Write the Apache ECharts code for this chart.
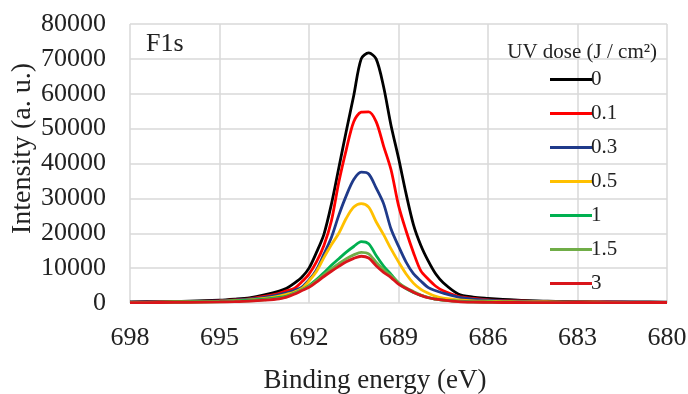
<!DOCTYPE html>
<html>
<head>
<meta charset="utf-8">
<script src="https://cdn.jsdelivr.net/npm/echarts@6/dist/echarts.min.js"></script>
<style>html,body{margin:0;padding:0;background:#fff}#c{width:688px;height:394px}</style>
</head>
<body>
<div id="c"></div>
<script>
var energy = [698, 697, 696, 695, 694.5, 694, 693.5, 693, 692.75, 692.5, 692.25, 692, 691.75, 691.5, 691.25, 691, 690.75, 690.5, 690.25, 690, 689.75, 689.5, 689.25, 689, 688.75, 688.5, 688.25, 688, 687.75, 687.5, 687, 686.5, 686, 685.5, 685, 684, 683, 682, 681, 680];
var doses = ['0', '0.1', '0.3', '0.5', '1', '1.5', '3'];
var dose0   = [300, 400, 500, 800, 1100, 1500, 2300, 3400, 4200, 5600, 7300, 10000, 14500, 19700, 28300, 38800, 49300, 59500, 70000, 71700, 70000, 62000, 50900, 41600, 31500, 22500, 16500, 12000, 8300, 5800, 2600, 1700, 1300, 1000, 800, 500, 400, 300, 300, 250];
var dose01  = [200, 300, 400, 600, 900, 1200, 1900, 2800, 3500, 4200, 6000, 8300, 11800, 16500, 23500, 34700, 44000, 52000, 54700, 54800, 52000, 45000, 38200, 28000, 20800, 14500, 9200, 6800, 4800, 3500, 1900, 1300, 900, 700, 600, 400, 300, 300, 200, 200];
var dose03  = [200, 300, 400, 600, 800, 1100, 1600, 2400, 2900, 3600, 4500, 6600, 9500, 14000, 18800, 25200, 30800, 35400, 37500, 37000, 33000, 28500, 21200, 16300, 11800, 8400, 6300, 4400, 3500, 2800, 1700, 1100, 800, 600, 500, 350, 300, 250, 200, 200];
var dose05  = [150, 250, 350, 500, 700, 900, 1300, 2000, 2500, 3100, 4100, 6300, 9000, 13000, 16700, 20000, 24300, 27500, 28500, 27500, 23300, 19600, 15500, 11800, 8400, 5700, 3900, 2800, 1900, 1400, 900, 600, 500, 400, 350, 300, 250, 200, 200, 200];
var dose1   = [150, 200, 300, 450, 600, 800, 1100, 1600, 2000, 2800, 3700, 5000, 6700, 8700, 10800, 12700, 14600, 16200, 17600, 17000, 13600, 10600, 8200, 5800, 4100, 3000, 2200, 1500, 1100, 800, 500, 350, 300, 250, 200, 200, 200, 150, 150, 150];
var dose15  = [150, 200, 250, 350, 450, 600, 900, 1300, 1800, 2700, 3800, 4800, 6400, 8100, 9800, 11300, 12700, 13800, 14500, 14100, 11700, 9500, 7800, 5800, 4400, 3300, 2300, 1600, 1100, 800, 450, 300, 250, 200, 200, 150, 150, 150, 150, 150];
var dose3   = [100, 150, 200, 300, 400, 550, 800, 1200, 1700, 2500, 3500, 4500, 6000, 7600, 9100, 10500, 11800, 12800, 13400, 12900, 10700, 8800, 7300, 5400, 4200, 3100, 2200, 1500, 1100, 800, 400, 250, 200, 150, 150, 100, 150, 100, 150, 150];
var xTicks = [698, 695, 692, 689, 686, 683, 680];
var yTicks = [0, 10000, 20000, 30000, 40000, 50000, 60000, 70000, 80000];

var values = [dose0, dose01, dose03, dose05, dose1, dose15, dose3];
var colors = ['#000000', '#ff0000', '#1f3a8a', '#ffc000', '#00b050', '#70ad47', '#d9151b'];
var serif = '"Liberation Serif", "Times New Roman", serif';

var series = doses.map(function (d, i) {
  return {
    name: d,
    type: 'line',
    symbol: 'none',
    smooth: 0.3,
    data: energy.map(function (e, j) { return [e, values[i][j]]; }),
    lineStyle: { width: 2.8, color: colors[i] },
    itemStyle: { color: colors[i] },
    z: 2 + i
  };
});

var chart = echarts.init(document.getElementById('c'), null, { renderer: 'canvas' });
chart.setOption({
  animation: false,
  backgroundColor: '#ffffff',
  title: [
    { text: 'F1s', left: 141, top: 26, textStyle: { fontFamily: serif, fontSize: 26, fontWeight: 'normal', color: '#222' } },
    { text: 'UV dose (J / cm²)', right: 26, top: 37, textStyle: { fontFamily: serif, fontSize: 21, fontWeight: 'normal', color: '#222' } }
  ],
  legend: {
    orient: 'vertical',
    left: 545,
    top: 64,
    itemWidth: 42,
    itemHeight: 20,
    itemGap: 13,
    icon: 'path://M0,0L40,0L40,3L0,3Z',
    data: doses,
    textStyle: { fontFamily: serif, fontSize: 21, lineHeight: 20, color: '#222', padding: [0, 0, 0, -6] }
  },
  grid: { left: 130, right: 21, top: 24, bottom: 91, containLabel: false, outerBoundsMode: 'none' },
  xAxis: {
    type: 'value',
    min: 680,
    max: 698,
    interval: 3,
    inverse: true,
    name: 'Binding energy (eV)',
    nameLocation: 'middle',
    nameGap: 64,
    nameMoveOverlap: false,
    nameTextStyle: { fontFamily: serif, fontSize: 27, color: '#222', padding: [0, 47, 0, 0] },
    axisLine: { show: false },
    axisTick: { show: false },
    axisLabel: { fontFamily: serif, fontSize: 26, color: '#222', margin: 22, formatter: function (v) { return String(v); } },
    splitLine: { show: true, lineStyle: { color: '#d9d9d9', width: 1.5 } }
  },
  yAxis: {
    type: 'value',
    min: 0,
    max: 80000,
    interval: 10000,
    name: 'Intensity (a. u.)',
    nameLocation: 'middle',
    nameGap: 93,
    nameMoveOverlap: false,
    nameTextStyle: { fontFamily: serif, fontSize: 28, color: '#222', padding: [0, 0, 0, 30] },
    axisLine: { show: false },
    axisTick: { show: false },
    axisLabel: { fontFamily: serif, fontSize: 26, color: '#222', margin: 24, formatter: function (v) { return String(v); } },
    splitLine: { show: true, lineStyle: { color: '#d9d9d9', width: 1.5 } }
  },
  series: series
});
</script>
</body>
</html>
